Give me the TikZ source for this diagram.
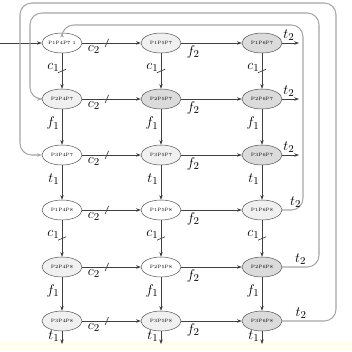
\documentclass[tikz,border=0pt]{standalone}
\usepackage{tikz}
\usepackage{amsmath, amssymb}
\usetikzlibrary{arrows.meta}
\usetikzlibrary{calc}
\usetikzlibrary{shapes}
\usetikzlibrary{decorations.markings}

\begin{document}
\begin{tikzpicture}[x=0.03cm, y=-0.03cm, >={Stealth[length=4pt,width=3pt]},
        node_style/.style={ellipse,draw=gray!60!black,fill=white,minimum width=1.2cm,minimum height=0.6cm,inner sep=0pt,font=\fontsize{4}{4}\selectfont},
        light_node_style/.style={node_style,fill=gray!12},
        dark_node_style/.style={node_style,fill=gray!28},
        edge_style/.style={draw=black!75, line width=0.6pt,->},
        back_style/.style={draw=gray!70, line width=0.9pt,->,rounded corners=10pt},
        lbl/.style={font=\fontsize{13}{13}\selectfont,inner sep=2pt},
        h_tick/.style={postaction={decorate},decoration={markings,mark=at position 0.42 with {\draw[-,black!75,line width=0.6pt] (-1.5pt,-3.5pt) -- (1.5pt,3.5pt);}}},
        v_tick/.style={postaction={decorate},decoration={markings,mark=at position 0.5 with {\draw[-,black!75,line width=0.6pt] (-1.5pt,3.5pt) -- (1.5pt,-3.5pt);}}}]

        \useasboundingbox (0,0) rectangle (352,351);
        \fill [yellow!6!white] (0,341) rectangle (352,351);

        \node [node_style](n11) at (62,43) {P1P4P7 1};
        \node [light_node_style](n12) at (161,43) {P1P5P7};
        \node [dark_node_style](n13) at (262,43) {P1P6P7};

        \node [light_node_style](n21) at (62,99) {P2P4P7};
        \node [dark_node_style](n22) at (161,99) {P2P5P7};
        \node [dark_node_style](n23) at (262,99) {P2P6P7};

        \node [node_style](n31) at (62,155) {P3P4P7};
        \node [light_node_style](n32) at (161,155) {P3P5P7};
        \node [dark_node_style](n33) at (262,155) {P3P6P7};

        \node [node_style](n41) at (62,210) {P1P4P8};
        \node [node_style](n42) at (161,210) {P1P5P8};
        \node [light_node_style](n43) at (262,210) {P1P6P8};

        \node [light_node_style](n51) at (62,267) {P2P4P8};
        \node [node_style](n52) at (161,267) {P2P5P8};
        \node [dark_node_style](n53) at (262,267) {P2P6P8};

        \node [light_node_style](n61) at (62,321) {P3P4P8};
        \node [light_node_style](n62) at (161,321) {P3P5P8};
        \node [dark_node_style](n63) at (262,321) {P3P6P8};

        \coordinate (in) at (0,43);
        \coordinate (o1) at (299,43);
        \coordinate (o2) at (299,99);
        \coordinate (o3) at (299,155);
        \coordinate (b1) at (62,344);
        \coordinate (b2) at (161,344);
        \coordinate (b3) at (262,344);

        \draw [edge_style] (in) -- (n11);

        % rows
        \foreach \r in {1,...,6}{
            \draw [edge_style,h_tick] (n\r1) -- node[lbl,below,pos=0.2]{$c_2$} (n\r2);
            \draw [edge_style] (n\r2) -- node[lbl,below,pos=0.2]{$f_2$} (n\r3);
        }
        \foreach \r in {1,2,3}{
            \draw [edge_style] (n\r3) -- node[lbl,above,pos=0.4]{$t_2$} (o\r);
        }

        % columns
        \foreach \c in {1,2,3}{
            \draw [edge_style,v_tick] (n1\c) -- node[lbl,left,pos=0.4]{$c_1$} (n2\c);
            \draw [edge_style] (n2\c) -- node[lbl,left,pos=0.4]{$f_1$} (n3\c);
            \draw [edge_style] (n3\c) -- node[lbl,left,pos=0.4]{$t_1$} (n4\c);
            \draw [edge_style,v_tick] (n4\c) -- node[lbl,left,pos=0.4]{$c_1$} (n5\c);
            \draw [edge_style] (n5\c) -- node[lbl,left,pos=0.4]{$f_1$} (n6\c);
            \draw [edge_style] (n6\c) -- node[lbl,left,pos=0.4]{$t_1$} (b\c);
        }

        % repair loops
        \draw [back_style] (n43.east) -- node[lbl,above,pos=0.65]{$t_2$} (303,210) -- (303,25) -- (62,25) -- (n11.north);
        \draw [back_style] (n53.east) -- node[lbl,above,pos=0.5]{$t_2$} (319,267) -- (319,13) -- (30,13) -- (30,99) -- (n21.west);
        \draw [back_style] (n63.east) -- node[lbl,above,pos=0.35]{$t_2$} (336,321) -- (336,3) -- (20,3) -- (20,155) -- (n31.west);

\end{tikzpicture}
\end{document}
